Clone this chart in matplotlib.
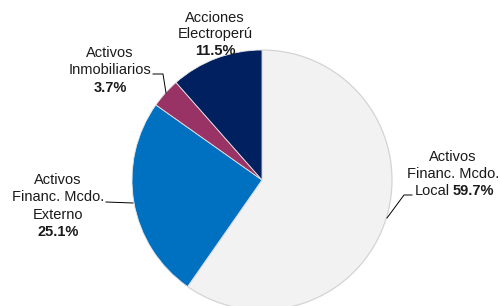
import matplotlib.pyplot as plt

plt.rcParams['font.family'] = ['Liberation Sans', 'DejaVu Sans']

labels = ['Activos Financ. Mcdo. Local', 'Activos Financ. Mcdo. Externo',
          'Activos Inmobiliarios', 'Acciones Electroperú']
shares = [59.7, 25.1, 3.7, 11.5]
colors = ['#F2F2F2', '#0070C0', '#993366', '#002060']

W, H = 500, 306
fig = plt.figure(figsize=(W / 100, H / 100), dpi=100)
ax = fig.add_axes([0, 0, 1, 1])

wedges, _ = ax.pie(shares, colors=colors, startangle=90, counterclock=False,
                   center=(262, H - 180), radius=130,
                   wedgeprops=dict(edgecolor='#E6E6E6', linewidth=0.6))
wedges[0].set_edgecolor('#D4D4D4')
wedges[0].set_linewidth(0.9)

ax.set_xlim(0, W)
ax.set_ylim(0, H)
ax.set_aspect('equal')
ax.axis('off')

fs = 10.5
tc = '#1a1a1a'
def y(p):
    return H - p

# Acciones Electroperú
ax.text(215, y(18), 'Acciones', ha='center', va='center', fontsize=fs, color=tc)
ax.text(215, y(34), 'Electroperú', ha='center', va='center', fontsize=fs, color=tc)
ax.text(215, y(51), f'{shares[3]:.1f}%', ha='center', va='center', fontsize=fs,
        fontweight='bold', color=tc)

# Activos Inmobiliarios
ax.text(110, y(53), 'Activos', ha='center', va='center', fontsize=fs, color=tc)
ax.text(110, y(70), 'Inmobiliarios', ha='center', va='center', fontsize=fs, color=tc)
ax.text(110, y(88), f'{shares[2]:.1f}%', ha='center', va='center', fontsize=fs,
        fontweight='bold', color=tc)
ax.plot([153, 163, 166], [y(74), y(74), y(93)], color='black', lw=0.7)

# Externo
ax.text(58, y(180), 'Activos', ha='center', va='center', fontsize=fs, color=tc)
ax.text(58, y(197), 'Financ. Mcdo.', ha='center', va='center', fontsize=fs, color=tc)
ax.text(58, y(215), 'Externo', ha='center', va='center', fontsize=fs, color=tc)
ax.text(58, y(232), f'{shares[1]:.1f}%', ha='center', va='center', fontsize=fs,
        fontweight='bold', color=tc)
ax.plot([106, 133], [y(202), y(203)], color='black', lw=0.7)

# Local
ax.text(453, y(157), 'Activos', ha='center', va='center', fontsize=fs, color=tc)
ax.text(453, y(174), 'Financ. Mcdo.', ha='center', va='center', fontsize=fs, color=tc)
ax.text(450, y(191), 'Local', ha='right', va='center', fontsize=fs, color=tc)
ax.text(453, y(191), f'{shares[0]:.1f}%', ha='left', va='center', fontsize=fs,
        fontweight='bold', color=tc)
ax.plot([412, 404, 387], [y(195), y(195), y(218)], color='black', lw=0.7)

fig.savefig('out.png', dpi=100)
